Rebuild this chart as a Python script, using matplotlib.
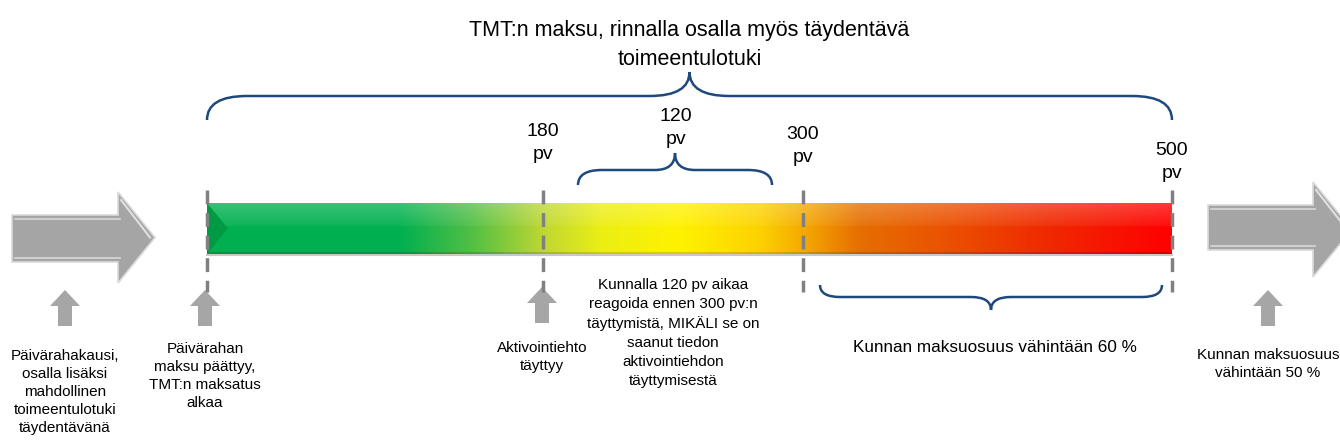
import numpy as np
import matplotlib
matplotlib.use("Agg")
from matplotlib import pyplot as plt
from matplotlib.path import Path
from matplotlib.patches import PathPatch, Polygon

plt.rcParams['font.family'] = ['Liberation Sans', 'DejaVu Sans']

# --- content ---
title = "TMT:n maksu, rinnalla osalla myös täydentävä\ntoimeentulotuki"
milestone_days = [0, 180, 300, 500]
milestone_labels = ["", "180\npv", "300\npv", "500\npv"]
window_label = "120\npv"
notes = [
    "Päivärahakausi,\nosalla lisäksi\nmahdollinen\ntoimeentulotuki\ntäydentävänä",
    "Päivärahan\nmaksu päättyy,\nTMT:n maksatus\nalkaa",
    "Aktivointiehto\ntäyttyy",
    "Kunnan maksuosuus\nvähintään 50 %",
]
window_note = ("Kunnalla 120 pv aikaa\nreagoida ennen 300 pv:n\ntäyttymistä, MIKÄLI se on\n"
               "saanut tiedon\naktivointiehdon\ntäyttymisestä")
share_note = "Kunnan maksuosuus vähintään 60 %"

# --- layout (pixel canvas) ---
W, H = 1340, 448
day_px = [207, 543, 803, 1172]       # where each milestone sits on the bar
bar_top, bar_bot = 203, 254
brace_col = "#1F497D"
gray = "#A6A6A6"


def day_to_x(d):
    return np.interp(d, milestone_days, day_px)


def brace(ax, x0, x1, y_end, y_mid, y_tip, r_end, r_tip):
    xm = (x0 + x1) / 2
    verts = [(x0, y_end), (x0, y_mid), (x0 + r_end, y_mid),
             (xm - r_tip, y_mid),
             (xm, y_mid), (xm, y_tip),
             (xm, y_mid), (xm + r_tip, y_mid),
             (x1 - r_end, y_mid),
             (x1, y_mid), (x1, y_end)]
    codes = [Path.MOVETO, Path.CURVE3, Path.CURVE3, Path.LINETO,
             Path.CURVE3, Path.CURVE3, Path.CURVE3, Path.CURVE3,
             Path.LINETO, Path.CURVE3, Path.CURVE3]
    ax.add_patch(PathPatch(Path(verts, codes), fill=False, ec=brace_col, lw=1.8))


def up_arrow(ax, cx, y_top):
    pts = [(cx, y_top), (cx + 15, y_top + 16), (cx + 7, y_top + 16), (cx + 7, y_top + 36),
           (cx - 7, y_top + 36), (cx - 7, y_top + 16), (cx - 15, y_top + 16)]
    ax.add_patch(Polygon(pts, closed=True, fc=gray, ec="none"))


def big_arrow(ax, x0, x_neck, x_tip, yb0, yb1, yh0, yh1):
    yc = (yh0 + yh1) / 2
    pts = [(x0, yb0), (x_neck, yb0), (x_neck, yh0), (x_tip, yc),
           (x_neck, yh1), (x_neck, yb1), (x0, yb1)]
    ax.add_patch(Polygon(pts, closed=True, fc="#A5A5A5", ec="#DADADA", lw=1.2))
    # bevel highlights
    ax.plot([x0 + 3, x_neck + 2], [yb0 + 4, yb0 + 4], color="#D8D8D8", lw=1.2)
    ax.plot([x0 + 3, x_neck + 2], [yb1 - 4, yb1 - 4], color="#D8D8D8", lw=1.2)
    ax.plot([x_neck + 3, x_tip - 5], [yh0 + 8, yc], color="#E0E0E0", lw=1.5)


fig = plt.figure(figsize=(W / 100, H / 100), dpi=100)
ax = fig.add_axes([0, 0, 1, 1])
ax.set_xlim(0, W)
ax.set_ylim(H, 0)
ax.axis("off")

# gradient bar
stops_x = [207, 400, 470, 543, 600, 680, 760, 803, 860, 950, 1050, 1172]
stops_c = np.array([(0, 176, 80), (0, 176, 80), (80, 190, 70), (190, 215, 50),
                    (235, 238, 20), (255, 242, 0), (252, 210, 0), (245, 170, 0),
                    (230, 110, 0), (235, 80, 0), (240, 40, 0), (255, 0, 0)]) / 255
xs = np.arange(day_px[0], day_px[-1] + 1)
base = np.stack([np.interp(xs, stops_x, stops_c[:, k]) for k in range(3)], axis=1)
rows = bar_bot - bar_top
f = np.linspace(0, 1, rows)
light = np.where(f < 0.45, 0.22 - 0.17 * f / 0.45, 0.0)
img = base[None, :, :] * (1 - light[:, None, None]) + light[:, None, None]
img[-2:] *= 0.85
ax.imshow(img, extent=(day_px[0], day_px[-1], bar_bot, bar_top), aspect="auto",
          interpolation="bilinear", zorder=2)
ax.plot([day_px[0], day_px[-1]], [bar_bot + 1, bar_bot + 1], color="#C8C8C8", lw=1.5, zorder=1)
# left bevel
ax.add_patch(Polygon([(207, bar_top), (228, (bar_top + bar_bot) / 2), (207, bar_bot)],
                     fc="#009A45", ec="none", zorder=3))

# milestone dashed lines and labels
for d in milestone_days:
    x = day_to_x(d)
    ax.plot([x, x], [190, 292], color="#808080", lw=2.5, ls=(0, (4, 2.5)), zorder=4)
label_y = [0, 143, 146, 162]
for d, lab, y in zip(milestone_days, milestone_labels, label_y):
    if lab:
        ax.text(day_to_x(d), y, lab, ha="center", va="center", fontsize=14, linespacing=1.4)

# braces
brace(ax, day_px[0], day_px[-1], 120, 96, 72, 40, 40)
brace(ax, 578, 772, 185, 170, 153, 24, 20)
brace(ax, 820, 1162, 285, 297, 310, 20, 20)

ax.text((day_px[0] + day_px[-1]) / 2, 45, title, ha="center", va="center",
        fontsize=15.5, linespacing=1.45)
ax.text(676, 128, window_label, ha="center", va="center", fontsize=14, linespacing=1.4)

# big gray arrows
big_arrow(ax, 12, 118, 155, 215, 262, 192, 283)
big_arrow(ax, 1208, 1313, 1352, 205, 250, 182, 277)

# small up arrows and notes
note_x = [65, 205, day_px[1] - 1, 1268]
arrow_top = [290, 290, 287, 290]
note_y = [392, 376, 357, 364]
for x, t, y0, y in zip(note_x, notes, arrow_top, note_y):
    up_arrow(ax, x, y0)
    ax.text(x, y, t, ha="center", va="center", fontsize=11, linespacing=1.36)

ax.text(673, 333, window_note, ha="center", va="center", fontsize=11, linespacing=1.43)
ax.text(995, 348, share_note, ha="center", va="center", fontsize=12.3)

fig.savefig("out.png", dpi=100)
